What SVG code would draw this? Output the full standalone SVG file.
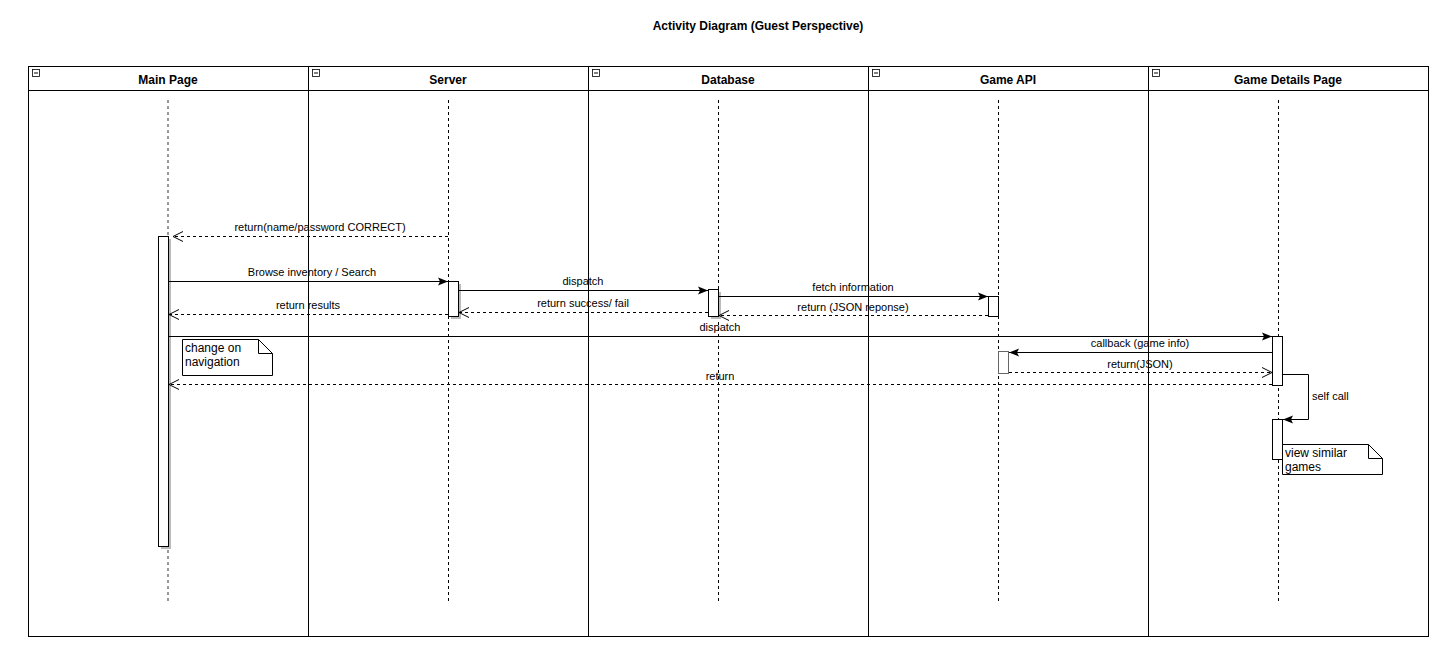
<svg xmlns="http://www.w3.org/2000/svg" width="1438" height="654" viewBox="0 0 1438 654">
<defs>
<style>
text{font-family:"Liberation Sans",Arial,sans-serif;fill:#000}
.title{font-size:12px;font-weight:bold}
.hdr{font-size:12px;font-weight:bold}
.lbl{font-size:11px}
.ntxt{font-size:12px}
.lane{fill:none;stroke:#000;stroke-width:1}
.life{stroke:#000;stroke-width:1;stroke-dasharray:3 3}
.act{fill:#fff;stroke:#000;stroke-width:1}
.shadow{fill:#bbb}
.msg{stroke:#000;stroke-width:1;fill:none}
.ret{stroke:#000;stroke-width:1;fill:none;stroke-dasharray:3 3}
.note{fill:#fff;stroke:#000;stroke-width:1}
</style>
<marker id="filled" viewBox="0 0 10 10" refX="10" refY="5" markerWidth="10" markerHeight="10" markerUnits="userSpaceOnUse" orient="auto">
<path d="M0,1 L10,5 L0,9 L2,5 Z" fill="#000"/>
</marker>
<marker id="open" viewBox="0 0 12 12" refX="11" refY="6" markerWidth="12" markerHeight="12" markerUnits="userSpaceOnUse" orient="auto">
<path d="M1,1 L11,6 L1,11" fill="none" stroke="#000" stroke-width="1"/>
</marker>
</defs>
<rect width="1438" height="654" fill="#fff"/>
<text class="title" x="758" y="30" text-anchor="middle">Activity Diagram (Guest Perspective)</text>

<g id="lanes">
<rect class="lane" x="28.5" y="66.5" width="1400" height="570"/>
<line class="lane" x1="28.5" y1="90.5" x2="1428.5" y2="90.5"/>
<line class="lane" x1="308.5" y1="66.5" x2="308.5" y2="636.5"/>
<line class="lane" x1="588.5" y1="66.5" x2="588.5" y2="636.5"/>
<line class="lane" x1="868.5" y1="66.5" x2="868.5" y2="636.5"/>
<line class="lane" x1="1148.5" y1="66.5" x2="1148.5" y2="636.5"/>
</g>

<g id="lane-main">
<rect x="32.5" y="69.5" width="7" height="7" fill="#fff" stroke="#000" stroke-width="0.8"/><line x1="34" y1="73" x2="38" y2="73" stroke="#000"/>
<text class="hdr" x="168" y="84" text-anchor="middle">Main Page</text>
<line x1="168" y1="100" x2="168" y2="604" stroke="#999" stroke-width="2" stroke-dasharray="3 3"/>
<rect class="shadow" x="161" y="239" width="10" height="310"/>
<rect class="act" x="158.5" y="236.5" width="10" height="310"/>
</g>
<g id="lane-server">
<rect x="312.5" y="69.5" width="7" height="7" fill="#fff" stroke="#000" stroke-width="0.8"/><line x1="314" y1="73" x2="318" y2="73" stroke="#000"/>
<text class="hdr" x="448" y="84" text-anchor="middle">Server</text>
<line class="life" x1="448.5" y1="100" x2="448.5" y2="604"/>
<rect class="shadow" x="451" y="284" width="10" height="35"/>
<rect class="act" x="448.5" y="281.5" width="10" height="35"/>
</g>
<g id="lane-database">
<rect x="592.5" y="69.5" width="7" height="7" fill="#fff" stroke="#000" stroke-width="0.8"/><line x1="594" y1="73" x2="598" y2="73" stroke="#000"/>
<text class="hdr" x="728" y="84" text-anchor="middle">Database</text>
<line class="life" x1="718.5" y1="100" x2="718.5" y2="604"/>
<rect class="shadow" x="711" y="292" width="10" height="27"/>
<rect class="act" x="708.5" y="289.5" width="10" height="27"/>
</g>
<g id="lane-gameapi">
<rect x="872.5" y="69.5" width="7" height="7" fill="#fff" stroke="#000" stroke-width="0.8"/><line x1="874" y1="73" x2="878" y2="73" stroke="#000"/>
<text class="hdr" x="1008" y="84" text-anchor="middle">Game API</text>
<line class="life" x1="998.5" y1="100" x2="998.5" y2="604"/>
<rect class="act" x="988.5" y="296.5" width="10" height="20"/>
<rect x="998.5" y="351.5" width="10" height="22" fill="#fff" stroke="#666"/>
</g>
<g id="lane-gamedetails">
<rect x="1152.5" y="69.5" width="7" height="7" fill="#fff" stroke="#000" stroke-width="0.8"/><line x1="1154" y1="73" x2="1158" y2="73" stroke="#000"/>
<text class="hdr" x="1288" y="84" text-anchor="middle">Game Details Page</text>
<line class="life" x1="1278.5" y1="100" x2="1278.5" y2="604"/>
<rect class="act" x="1272.5" y="336.5" width="10" height="49"/>
<rect class="act" x="1272.5" y="419.5" width="10" height="40"/>
</g>

<g id="connectors">
<line class="ret" x1="448" y1="236.5" x2="173" y2="236.5" marker-end="url(#open)"/>
<text class="lbl" x="320" y="231" text-anchor="middle">return(name/password CORRECT)</text>
<line class="msg" x1="169" y1="281.5" x2="448" y2="281.5" marker-end="url(#filled)"/>
<text class="lbl" x="312" y="276" text-anchor="middle">Browse inventory / Search</text>
<line class="ret" x1="448" y1="314.5" x2="169" y2="314.5" marker-end="url(#open)"/>
<text class="lbl" x="308" y="309" text-anchor="middle">return results</text>
<line class="msg" x1="459" y1="290.5" x2="708" y2="290.5" marker-end="url(#filled)"/>
<text class="lbl" x="583" y="285" text-anchor="middle">dispatch</text>
<line class="ret" x1="708" y1="312.5" x2="459" y2="312.5" marker-end="url(#open)"/>
<text class="lbl" x="583" y="307" text-anchor="middle">return success/ fail</text>
<line class="msg" x1="719" y1="296.5" x2="988" y2="296.5" marker-end="url(#filled)"/>
<text class="lbl" x="853" y="291" text-anchor="middle">fetch information</text>
<line class="ret" x1="988" y1="315.5" x2="719" y2="315.5" marker-end="url(#open)"/>
<text class="lbl" x="853" y="311" text-anchor="middle">return (JSON reponse)</text>
<line class="msg" x1="169" y1="336.5" x2="1272" y2="336.5" marker-end="url(#filled)"/>
<text class="lbl" x="720" y="331" text-anchor="middle">dispatch</text>
<line class="msg" x1="1272" y1="352.5" x2="1009" y2="352.5" marker-end="url(#filled)"/>
<text class="lbl" x="1140" y="347" text-anchor="middle">callback (game info)</text>
<line class="ret" x1="1009" y1="372.5" x2="1272" y2="372.5" marker-end="url(#open)"/>
<text class="lbl" x="1140" y="368" text-anchor="middle">return(JSON)</text>
<line class="ret" x1="1272" y1="384.5" x2="169" y2="384.5" marker-end="url(#open)"/>
<text class="lbl" x="720" y="380" text-anchor="middle">return</text>
<path class="msg" d="M1283,374.5 H1308.5 V419.5 H1283" marker-end="url(#filled)"/>
<text class="lbl" x="1312" y="400">self call</text>
</g>

<g id="note-navigation">
<path class="note" d="M182.5,339.5 H258.5 L272.5,353.5 V375.5 H182.5 Z"/>
<path d="M258.5,339.5 V353.5 H272.5" fill="none" stroke="#000"/>
<text class="ntxt" x="185" y="352">change on</text>
<text class="ntxt" x="185" y="366">navigation</text>
</g>
<g id="note-similar">
<path class="note" d="M1282.5,444.5 H1368.5 L1382.5,458.5 V474.5 H1282.5 Z"/>
<path d="M1368.5,444.5 V458.5 H1382.5" fill="none" stroke="#000"/>
<text class="ntxt" x="1285" y="457">view similar</text>
<text class="ntxt" x="1285" y="471">games</text>
</g>
</svg>
